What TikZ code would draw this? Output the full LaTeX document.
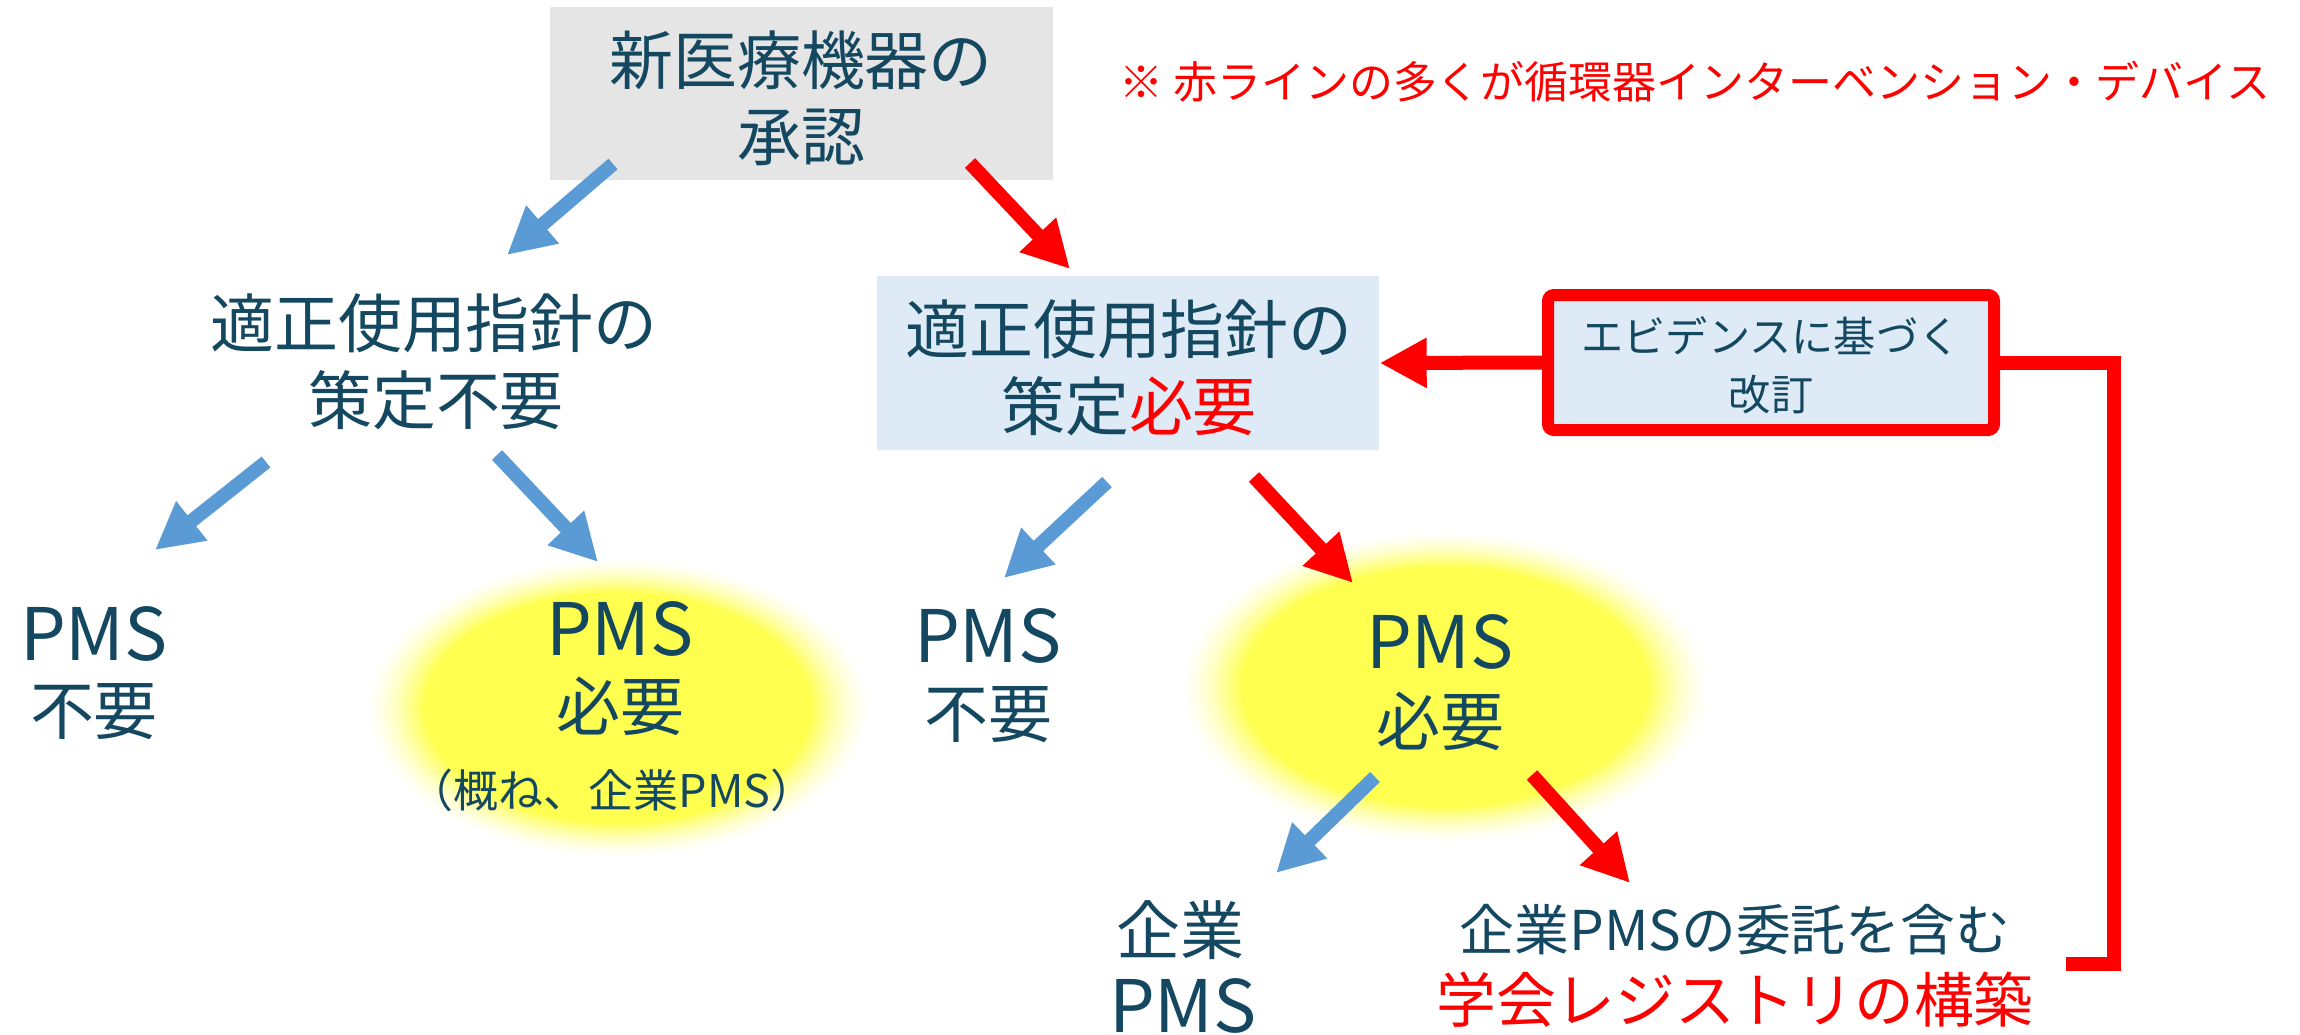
\documentclass[tikz,border=0pt]{standalone}
\usepackage{fontspec}
\setmainfont{Noto Sans CJK JP}
\usetikzlibrary{arrows.meta}
\definecolor{txtc}{RGB}{20,72,96}
\definecolor{arrblue}{RGB}{91,155,213}
\definecolor{boxgray}{RGB}{229,229,229}
\definecolor{boxblue}{RGB}{222,234,246}
\definecolor{glowy}{RGB}{255,255,80}
\tikzset{
  barrow/.style={draw=arrblue, line width=1.4mm, -{Triangle[length=4.7mm,width=4.7mm]}},
  rarrow/.style={draw=red, line width=1.4mm, -{Triangle[length=4.7mm,width=4.7mm]}},
  txt/.style={text=txtc, inner sep=0pt, font=\fontsize{18.2pt}{21.9pt}\selectfont},
  pmstxt/.style={text=txtc, inner sep=0pt, font=\fontsize{20.6pt}{24pt}\selectfont},
  notetxt/.style={text=red, inner sep=0pt, font=\fontsize{12.5pt}{15pt}\selectfont},
  evtxt/.style={text=txtc, inner sep=0pt, font=\fontsize{12pt}{15pt}\selectfont},
  subtxt/.style={text=txtc, inner sep=0pt, font=\fontsize{12.8pt}{15pt}\selectfont},
  regtxt/.style={text=txtc, inner sep=0pt, font=\fontsize{15.6pt}{18pt}\selectfont},
  regred/.style={text=red, inner sep=0pt, font=\fontsize{17pt}{20pt}\selectfont},
  boxg/.style={fill=boxgray, inner sep=0pt},
  boxb/.style={fill=boxblue, inner sep=0pt},
  evbox/.style={draw=red, fill=boxblue, line width=1.2mm, rounded corners=0.6mm, inner sep=0pt},
}
\newcommand{\glowat}[3]{%
  \foreach \k in {0,...,30}{%
    \pgfmathsetmacro\f{1-\k*0.008}%
    \pgfmathtruncatemacro\p{100*(\k/30)^1.6}%
    \fill[glowy!\p!white] #1 ellipse [x radius=#2*\f, y radius=#3*\f];
  }%
}
\begin{document}
\begin{tikzpicture}[x=0.1mm, y=-0.1mm]
\useasboundingbox (0,0) rectangle (2300,1035);
% boxes
\node[boxg, minimum width=50.3mm, minimum height=17.3mm] (top) at (801.5,93.5) {};
\node[boxb, minimum width=50.2mm, minimum height=17.4mm] (mid) at (1128,363) {};
\node[evbox, minimum width=44.6mm, minimum height=13.5mm] (ev) at (1771,362.5) {};
% glows
\coordinate (g1) at (618,708);
\coordinate (g2) at (1445,687);
\glowat{(g1)}{25.5mm}{15.2mm}
\glowat{(g2)}{26.8mm}{15.8mm}
% texts
\node[txt] (t1) at (801,60) {新医療機器の};
\node[txt] (t2) at (801,137) {承認};
\node[notetxt] (note) at (1695,82) {※ 赤ラインの多くが循環器インターベンション・デバイス};
\node[txt] (l1) at (434,323) {適正使用指針の};
\node[txt] (l2) at (436,400) {策定不要};
\node[txt] (m1) at (1129,329) {適正使用指針の};
\node[txt] (m2) at (1129,406) {策定\textcolor{red}{必要}};
\node[evtxt] (e1) at (1771,336) {エビデンスに基づく};
\node[evtxt] (e2) at (1771,395) {改訂};
\node[pmstxt] (p1a) at (94,634) {PMS};
\node[txt] (p1b) at (94,712) {不要};
\node[pmstxt] (p2a) at (620,629) {PMS};
\node[txt] (p2b) at (620,706) {必要};
\node[subtxt] (p2c) at (612,790) {（概ね、企業PMS）};
\node[pmstxt] (p3a) at (988,636) {PMS};
\node[txt] (p3b) at (988,715) {不要};
\node[pmstxt] (p4a) at (1440,642) {PMS};
\node[txt] (p4b) at (1440,721) {必要};
\node[txt] (c1) at (1180,930) {企業};
\node[pmstxt] (c2) at (1183,1006) {PMS};
\node[regtxt] (r1) at (1735,930) {企業PMSの委託を含む};
\node[regred] (r2) at (1735,1000) {学会レジストリの構築};
% arrow end points
\coordinate (a1s) at (613,164); \coordinate (a1e) at (507,255);
\coordinate (a2s) at (970,163); \coordinate (a2e) at (1070,269);
\coordinate (a3s) at (266,462); \coordinate (a3e) at (155,550);
\coordinate (a4s) at (497,455); \coordinate (a4e) at (598,562);
\coordinate (a5s) at (1107,482); \coordinate (a5e) at (1004,578);
\coordinate (a6s) at (1254,477); \coordinate (a6e) at (1353,583);
\coordinate (a7s) at (1375,777); \coordinate (a7e) at (1276,873);
\coordinate (a8s) at (1532,775); \coordinate (a8e) at (1630,883);
\coordinate (fbend) at (2066,964);
% arrows
\draw[barrow] (a1s) -- (a1e);
\draw[rarrow] (a2s) -- (a2e);
\draw[barrow] (a3s) -- (a3e);
\draw[barrow] (a4s) -- (a4e);
\draw[barrow] (a5s) -- (a5e);
\draw[rarrow] (a6s) -- (a6e);
\draw[barrow] (a7s) -- (a7e);
\draw[rarrow] (a8s) -- (a8e);
\draw[rarrow] (ev.west) -- (mid.east);
\draw[draw=red, line width=1.4mm] (ev.east) -- (2114,362.5) |- (fbend);
\end{tikzpicture}
\end{document}
